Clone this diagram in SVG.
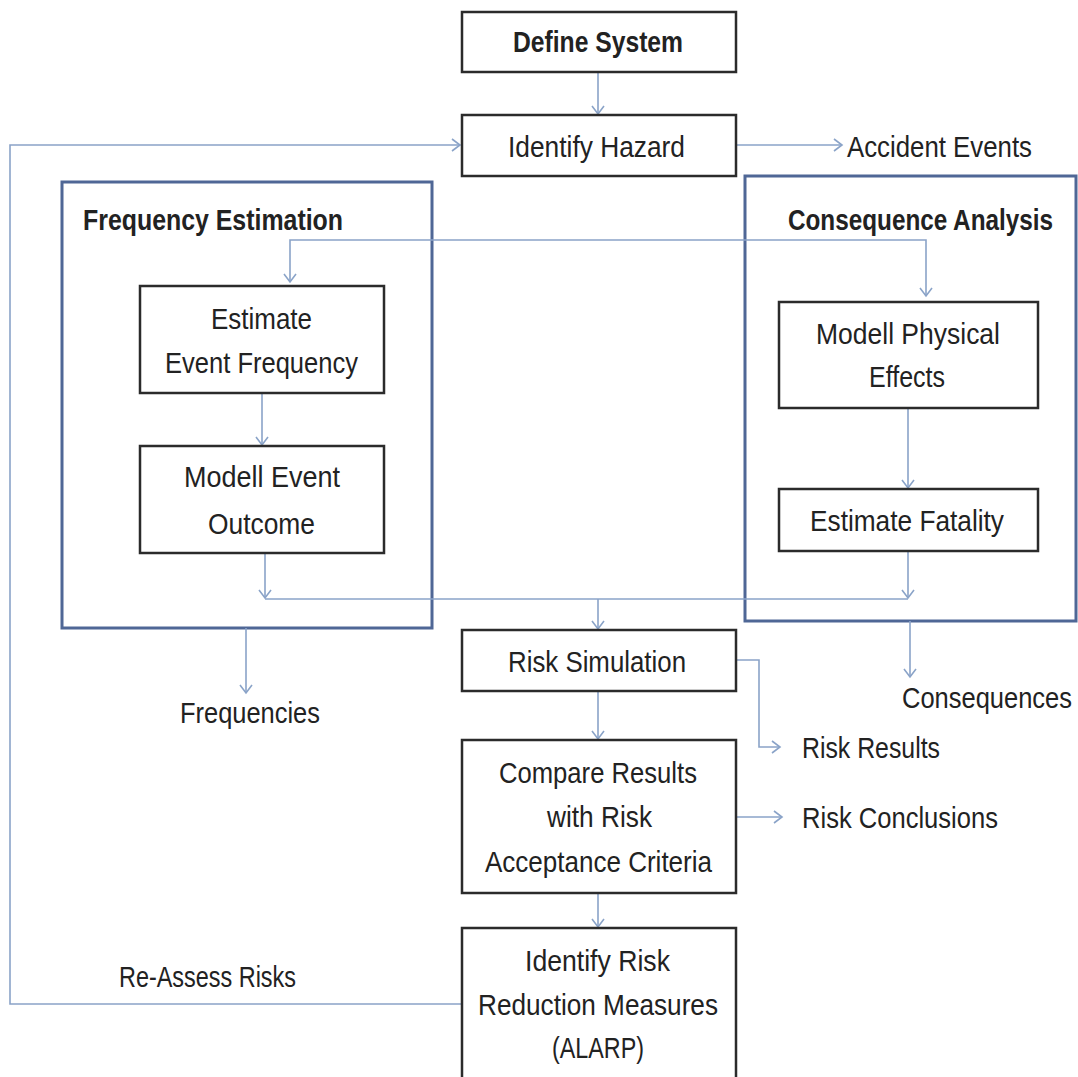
<svg xmlns="http://www.w3.org/2000/svg" width="1078" height="1077" viewBox="0 0 1078 1077">
<style>
  text { font-family: "Liberation Sans", Arial, sans-serif; font-size: 29px; fill: #222; }
  .b { font-weight: bold; }
  .box { fill: #fff; stroke: #2b2b2b; stroke-width: 2.5; }
  .frame { fill: none; stroke: #4f6796; stroke-width: 3; }
  .conn { fill: none; stroke: #8aa3c8; stroke-width: 1.6; }
</style>
<defs>
  <marker id="arr" markerUnits="userSpaceOnUse" markerWidth="12" markerHeight="14" refX="9" refY="7" orient="auto">
    <path d="M1,1 L9,7 L1,13" fill="none" stroke="#8aa3c8" stroke-width="1.6"/>
  </marker>
</defs>
<rect width="1078" height="1077" fill="#fff"/>

<g id="frame-frequency">
  <rect class="frame" x="62" y="182" width="370" height="446"/>
  <text class="b" x="83" y="230" textLength="260" lengthAdjust="spacingAndGlyphs">Frequency Estimation</text>
</g>
<g id="frame-consequence">
  <rect class="frame" x="745" y="176" width="331" height="445"/>
  <text class="b" x="1053" y="230" text-anchor="end" textLength="265" lengthAdjust="spacingAndGlyphs">Consequence Analysis</text>
</g>

<g id="connectors">
  <path class="conn" d="M598,72 L598,114" marker-end="url(#arr)"/>
  <path class="conn" d="M462,1004 L10,1004 L10,145 L460,145" marker-end="url(#arr)"/>
  <path class="conn" d="M736,145 L842,145" marker-end="url(#arr)"/>
  <path class="conn" d="M600,240 L290,240 L290,282" marker-end="url(#arr)"/>
  <path class="conn" d="M600,240 L926,240 L926,296" marker-end="url(#arr)"/>
  <path class="conn" d="M262,393 L262,445" marker-end="url(#arr)"/>
  <path class="conn" d="M908,408 L908,488" marker-end="url(#arr)"/>
  <path class="conn" d="M265,553 L265,598" marker-end="url(#arr)"/>
  <path class="conn" d="M908,551 L908,598" marker-end="url(#arr)"/>
  <path class="conn" d="M265,599 L908,599"/>
  <path class="conn" d="M598,599 L598,629" marker-end="url(#arr)"/>
  <path class="conn" d="M246,628 L246,693" marker-end="url(#arr)"/>
  <path class="conn" d="M910,621 L910,677" marker-end="url(#arr)"/>
  <path class="conn" d="M736,660 L759,660 L759,747 L780,747" marker-end="url(#arr)"/>
  <path class="conn" d="M598,691 L598,739" marker-end="url(#arr)"/>
  <path class="conn" d="M736,817 L782,817" marker-end="url(#arr)"/>
  <path class="conn" d="M598,893 L598,927" marker-end="url(#arr)"/>
</g>

<g id="define-system">
  <rect class="box" x="462" y="12" width="274" height="60"/>
  <text class="b" x="513" y="52" textLength="170" lengthAdjust="spacingAndGlyphs">Define System</text>
</g>
<g id="identify-hazard">
  <rect class="box" x="462" y="115" width="274" height="61"/>
  <text x="508" y="157" textLength="177" lengthAdjust="spacingAndGlyphs">Identify Hazard</text>
</g>
<g id="accident-events">
  <text x="1032" y="157" text-anchor="end" textLength="185" lengthAdjust="spacingAndGlyphs">Accident Events</text>
</g>
<g id="estimate-event-frequency">
  <rect class="box" x="140" y="286" width="244" height="107"/>
  <text x="211" y="329" textLength="101" lengthAdjust="spacingAndGlyphs">Estimate</text>
  <text x="165" y="373" textLength="193" lengthAdjust="spacingAndGlyphs">Event Frequency</text>
</g>
<g id="modell-event-outcome">
  <rect class="box" x="140" y="446" width="244" height="107"/>
  <text x="184" y="487" textLength="156" lengthAdjust="spacingAndGlyphs">Modell Event</text>
  <text x="208" y="534" textLength="107" lengthAdjust="spacingAndGlyphs">Outcome</text>
</g>
<g id="modell-physical-effects">
  <rect class="box" x="779" y="302" width="259" height="106"/>
  <text x="816" y="344" textLength="184" lengthAdjust="spacingAndGlyphs">Modell Physical</text>
  <text x="869" y="387" textLength="76" lengthAdjust="spacingAndGlyphs">Effects</text>
</g>
<g id="estimate-fatality">
  <rect class="box" x="779" y="489" width="259" height="62"/>
  <text x="810" y="531" textLength="194" lengthAdjust="spacingAndGlyphs">Estimate Fatality</text>
</g>
<g id="frequencies">
  <text x="180" y="723" textLength="140" lengthAdjust="spacingAndGlyphs">Frequencies</text>
</g>
<g id="consequences">
  <text x="1072" y="708" text-anchor="end" textLength="170" lengthAdjust="spacingAndGlyphs">Consequences</text>
</g>
<g id="risk-simulation">
  <rect class="box" x="462" y="630" width="274" height="61"/>
  <text x="508" y="672" textLength="178" lengthAdjust="spacingAndGlyphs">Risk Simulation</text>
</g>
<g id="risk-results">
  <text x="802" y="758" textLength="138" lengthAdjust="spacingAndGlyphs">Risk Results</text>
</g>
<g id="compare-results">
  <rect class="box" x="462" y="740" width="274" height="153"/>
  <text x="499" y="783" textLength="198" lengthAdjust="spacingAndGlyphs">Compare Results</text>
  <text x="547" y="827" textLength="105" lengthAdjust="spacingAndGlyphs">with Risk</text>
  <text x="485" y="872" textLength="227" lengthAdjust="spacingAndGlyphs">Acceptance Criteria</text>
</g>
<g id="risk-conclusions">
  <text x="802" y="828" textLength="196" lengthAdjust="spacingAndGlyphs">Risk Conclusions</text>
</g>
<g id="identify-risk-reduction">
  <rect class="box" x="462" y="928" width="274" height="170"/>
  <text x="525" y="971" textLength="145" lengthAdjust="spacingAndGlyphs">Identify Risk</text>
  <text x="478" y="1015" textLength="240" lengthAdjust="spacingAndGlyphs">Reduction Measures</text>
  <text x="552" y="1058" textLength="92" lengthAdjust="spacingAndGlyphs">(ALARP)</text>
</g>
<g id="re-assess-risks">
  <text x="119" y="987" textLength="177" lengthAdjust="spacingAndGlyphs">Re-Assess Risks</text>
</g>
</svg>
